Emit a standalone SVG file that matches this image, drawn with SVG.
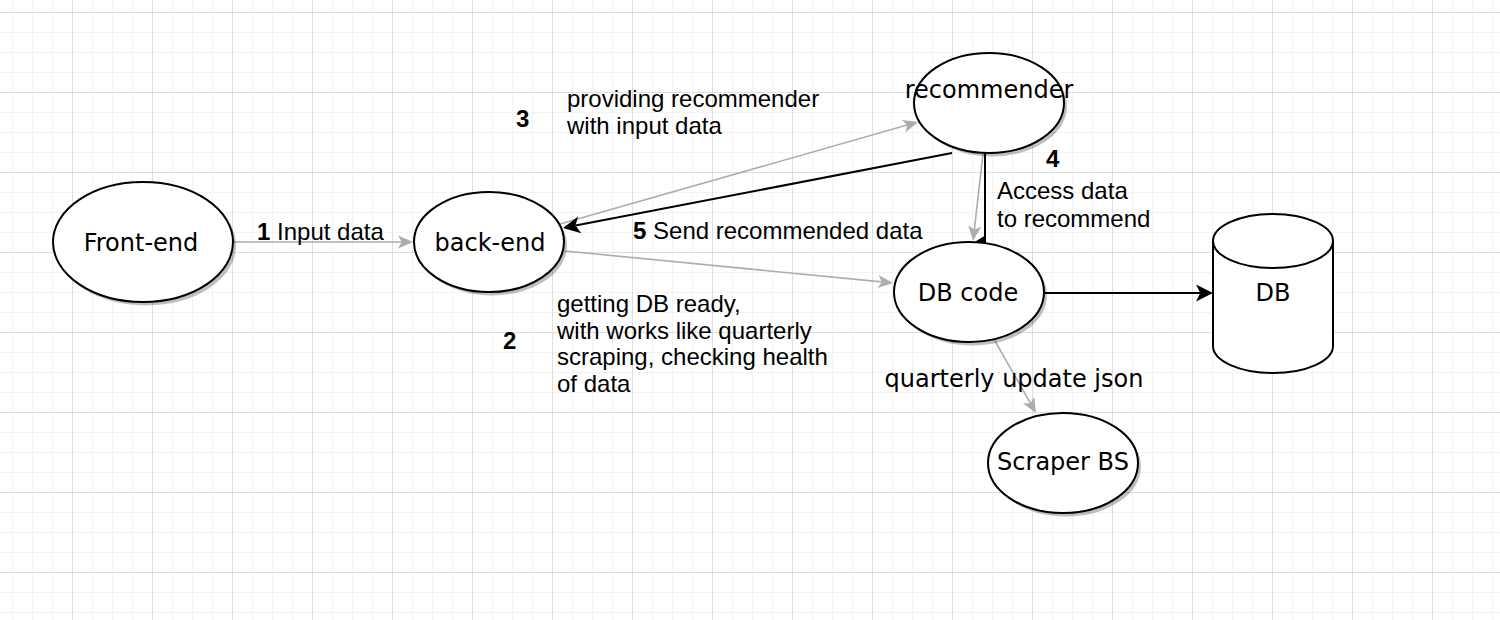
<svg xmlns="http://www.w3.org/2000/svg" width="1500" height="620" viewBox="0 0 1500 620">
<style>
.node{fill:#fff;stroke:#000;stroke-width:2}
.shadow{fill:#000;fill-opacity:0.25}
.nl{font-family:"DejaVu Sans",Verdana,sans-serif;font-size:24px;fill:#000;text-anchor:middle}
.el{font-family:"Liberation Sans",Arial,Helvetica,sans-serif;font-size:24px;fill:#000}
.b{font-weight:bold}
.g{fill:none;stroke:#adadad;stroke-width:1.6}
.k{fill:none;stroke:#000;stroke-width:2}
</style>
<defs>
<pattern id="grid" patternUnits="userSpaceOnUse" x="12" y="12" width="80" height="80">
<rect x="0" y="0" width="1" height="80" fill="#f3f3f3"/>
<rect x="20" y="0" width="1" height="80" fill="#f3f3f3"/>
<rect x="40" y="0" width="1" height="80" fill="#f3f3f3"/>
<rect x="0" y="20" width="80" height="1" fill="#f3f3f3"/>
<rect x="0" y="40" width="80" height="1" fill="#f3f3f3"/>
<rect x="0" y="60" width="80" height="1" fill="#f3f3f3"/>
<rect x="60" y="0" width="1" height="80" fill="#dedede"/>
<rect x="0" y="0" width="80" height="1" fill="#dedede"/>
</pattern>
<marker id="ag" markerUnits="userSpaceOnUse" viewBox="-16 -8 17 16" markerWidth="17" markerHeight="16" refX="-11.25" refY="0" orient="auto">
<path d="M0,0 L-15,-6.5 L-11.25,0 L-15,6.5 Z" fill="#adadad"/>
</marker>
<marker id="ak" markerUnits="userSpaceOnUse" viewBox="-18 -10 19 20" markerWidth="19" markerHeight="20" refX="-12.75" refY="0" orient="auto">
<path d="M0,0 L-17,-8.5 L-12.75,0 L-17,8.5 Z" fill="#000"/>
</marker>
</defs>
<rect width="1500" height="620" fill="#fff"/>
<rect width="1500" height="620" fill="url(#grid)"/>

<g id="connectors">
<line class="g" x1="234" y1="242" x2="401.75" y2="242" marker-end="url(#ag)"/>
<line class="g" x1="565" y1="251" x2="881.8" y2="281.9" marker-end="url(#ag)"/>
<line class="g" x1="560" y1="224" x2="907.2" y2="125.1" marker-end="url(#ag)"/>
<line class="k" x1="952" y1="153" x2="575.5" y2="225.6" marker-end="url(#ak)"/>
<line class="g" x1="983" y1="154" x2="974.3" y2="229.8" marker-end="url(#ag)"/>
<line class="k" x1="985" y1="153" x2="985" y2="242"/>
<polygon points="973,243 986,235 986,243" fill="#000"/>
<line class="k" x1="1045" y1="293" x2="1200.25" y2="293" marker-end="url(#ak)"/>
<line class="g" x1="995" y1="341" x2="1030.4" y2="403.2" marker-end="url(#ag)"/>
<text class="el" x="257" y="240"><tspan class="b">1</tspan> Input data</text>
<text class="el b" x="516" y="127">3</text>
<text class="el" x="567" y="107">providing recommender</text>
<text class="el" x="567" y="134">with input data</text>
<text class="el" x="633" y="239"><tspan class="b">5</tspan> Send recommended data</text>
<text class="el b" x="1046" y="167">4</text>
<text class="el" x="997" y="199">Access data</text>
<text class="el" x="997" y="227">to recommend</text>
<text class="el b" x="503" y="349">2</text>
<text class="el" x="557" y="312">getting DB ready,</text>
<text class="el" x="557" y="338.5">with works like quarterly</text>
<text class="el" x="557" y="365">scraping, checking health</text>
<text class="el" x="557" y="392">of data</text>
<text class="nl" x="1014" y="387">quarterly update json</text>
</g>

<g id="front-end">
<ellipse class="shadow" cx="146" cy="245.5" rx="90" ry="60"/>
<ellipse class="node" cx="143" cy="242" rx="90" ry="60"/>
<text class="nl" x="141" y="251">Front-end</text>
</g>

<g id="back-end">
<ellipse class="shadow" cx="492" cy="245.5" rx="75" ry="50"/>
<ellipse class="node" cx="489" cy="242" rx="75" ry="50"/>
<text class="nl" x="490" y="251">back-end</text>
</g>

<g id="recommender">
<ellipse class="shadow" cx="992" cy="106.5" rx="75" ry="50"/>
<ellipse class="node" cx="989" cy="103" rx="75" ry="50"/>
<text class="nl" x="989" y="98">recommender</text>
</g>

<g id="db-code">
<ellipse class="shadow" cx="972" cy="295.5" rx="75" ry="50"/>
<ellipse class="node" cx="969" cy="292" rx="75" ry="50"/>
<text class="nl" x="968" y="301">DB code</text>
</g>

<g id="db">
<path class="node" d="M1213,241 A60,27 0 0 1 1333,241 L1333,346 A60,27 0 0 1 1213,346 Z"/>
<path class="node" fill="none" d="M1213,241 A60,27 0 0 0 1333,241"/>
<text class="nl" x="1273" y="301">DB</text>
</g>

<g id="scraper-bs">
<ellipse class="shadow" cx="1066" cy="466.5" rx="75" ry="50"/>
<ellipse class="node" cx="1063" cy="463" rx="75" ry="50"/>
<text class="nl" x="1063" y="470">Scraper BS</text>
</g>
</svg>
